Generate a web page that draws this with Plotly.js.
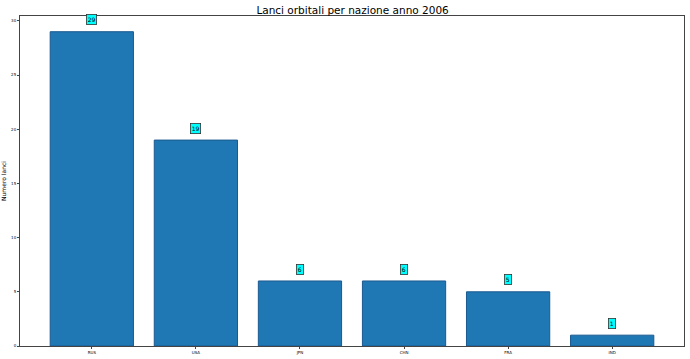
<!DOCTYPE html>
<html><head><meta charset="utf-8">
<script src="https://cdn.plot.ly/plotly-3.0.1.min.js"></script>
<style>html,body{margin:0;padding:0;background:#fff}#c{width:690px;height:359px}</style>
</head><body><div id="c"></div>
<script>
const categories = ["RUS", "USA", "JPN", "CHN", "FRA", "IND"];
const launches = [29, 19, 6, 6, 5, 1];
const yTicks = [0, 5, 10, 15, 20, 25, 30];

const annotations = categories.map((c, i) => ({
  x: c, y: launches[i] + 1.1, xref: 'x', yref: 'y',
  text: String(launches[i]), showarrow: false,
  font: {family: 'DejaVu Sans', size: 6, color: '#000'},
  bgcolor: '#00ffff', bordercolor: '#333', borderwidth: 0.8, borderpad: 1,
  xanchor: 'center', yanchor: 'middle'
}));

Plotly.newPlot('c', [{
  type: 'bar', x: categories, y: launches,
  width: 0.8,
  marker: {color: '#1f77b4', line: {color: '#1a5a90', width: 1}},
  hoverinfo: 'none'
}], {
  width: 690, height: 359,
  margin: {l: 20, r: 6, t: 16, b: 13, autoexpand: false},
  paper_bgcolor: '#fff', plot_bgcolor: '#fff',
  title: {text: 'Lanci orbitali per nazione anno 2006', x: 0.511, xanchor: 'center', y: 0.982, yanchor: 'top',
    font: {family: 'DejaVu Sans', size: 10.5, color: '#000'}},
  xaxis: {range: [-0.69, 5.69], automargin: false, showline: true, linecolor: '#444', linewidth: 1, mirror: true,
    ticks: 'outside', ticklen: 2, tickcolor: '#444', tickfont: {family: 'DejaVu Sans', size: 4, color: '#000'},
    showgrid: false, zeroline: false, fixedrange: true},
  yaxis: {range: [0, 30.45], automargin: false, tickvals: yTicks, ticktext: yTicks.map(String), showline: true, linecolor: '#444', linewidth: 1, mirror: true,
    ticks: 'outside', ticklen: 2, tickcolor: '#444', tickfont: {family: 'DejaVu Sans', size: 4, color: '#000'},
    showgrid: false, zeroline: false,
    title: {text: 'Numero lanci', standoff: 6, font: {family: 'DejaVu Sans', size: 6, color: '#000'}}},
  annotations: annotations,
  showlegend: false, bargap: 0.2
}, {displayModeBar: false, staticPlot: true});
</script></body></html>
